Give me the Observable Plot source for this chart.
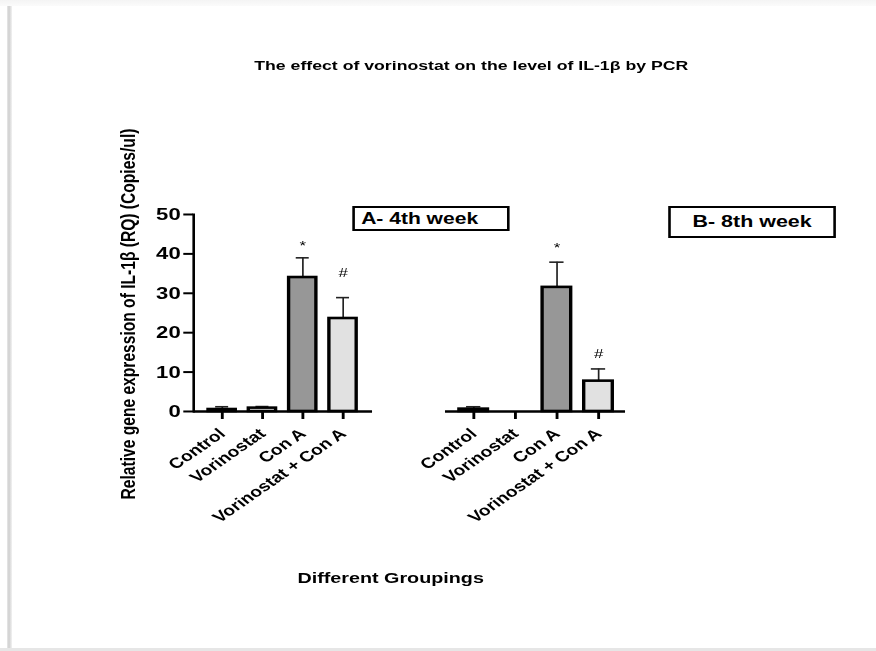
<!DOCTYPE html>
<html>
<head>
<meta charset="utf-8">
<script src="https://cdn.jsdelivr.net/npm/d3@7"></script>
<script src="https://cdn.jsdelivr.net/npm/@observablehq/plot@0.6"></script>
<style>
  html, body { margin: 0; padding: 0; background: #fff; width: 876px; height: 651px; overflow: hidden; }
  body { position: relative; font-family: "Liberation Sans", Arial, Helvetica, sans-serif; }
  #topband { position: absolute; left: 0; top: 0; width: 876px; height: 6px; background: linear-gradient(#f4f4f4, #fbfbfb); }
  #leftshadow { position: absolute; left: 7px; top: 6px; width: 5px; height: 643px; background: linear-gradient(to right, #e8e8e8, #cfcfcf 40%, #f2f2f2); }
  #bottomline { position: absolute; left: 0; top: 648px; width: 876px; height: 3px; background: #e6e6e6; }
  #wrap { position: absolute; left: 0; top: 0; width: 674px; height: 651px; transform: scaleX(1.3); transform-origin: 0 0; }
  #wrap svg { position: absolute; left: 0; top: 0; }
  .t { position: absolute; font-weight: bold; color: #000; white-space: nowrap; }
  #title { left: 362.5px; top: 58px; font-size: 13.6px; transform: translateX(-50%); }
  #ylabel { left: 98.5px; top: 314px; font-size: 15.6px; transform: translate(-50%, -50%) rotate(-90deg); }
  #xlabel { left: 300.5px; top: 569px; font-size: 15.2px; transform: translateX(-50%); }
  .box { position: absolute; border: 2.5px solid #000; box-sizing: border-box; font-weight: bold; white-space: nowrap; background: #fff; }
  #boxA { left: 270.8px; top: 206px; width: 121.5px; height: 25px; font-size: 16.2px; padding-left: 5px; line-height: 20px; }
  #boxB { left: 513.8px; top: 206px; width: 129.5px; height: 32px; font-size: 16.5px; text-align: center; line-height: 27px; }
</style>
</head>
<body>
<div id="topband"></div>
<div id="leftshadow"></div>
<div id="bottomline"></div>
<div id="wrap">
  <div class="t" id="title">The effect of vorinostat on the level of IL-1β by PCR</div>
  <div class="t" id="ylabel">Relative gene expression of IL-1β (RQ) (Copies/ul)</div>
  <div class="t" id="xlabel">Different Groupings</div>
  <div class="box" id="boxA">A- 4th week</div>
  <div class="box" id="boxB">B- 8th week</div>
</div>
<script>
// ---- data ----
const groups = ["Control", "Vorinostat", "Con A", "Vorinostat + Con A"];
const week4Mean = [0.5, 0.85, 34.0, 23.6];
const week4Err  = [0.7, 0.4, 5.0, 5.3];
const week4Sig  = ["", "", "*", "#"];
const week4SigLevel = [null, null, 42.0, 35.3];
const week8Mean = [0.6, 0, 31.5, 7.7];
const week8Err  = [0.6, 0, 6.4, 3.1];
const week8Sig  = ["", "", "*", "#"];
const week8SigLevel = [null, null, 41.6, 14.7];
const yTicks = [0, 10, 20, 30, 40, 50];
const barFills = ["#ffffff", "#ffffff", "#979797", "#e1e1e1"];

function rows(means, errs, sig, lvl) {
  return groups.map((g, i) => ({group: g, mean: means[i], upper: means[i] + errs[i], err: errs[i], sig: sig[i], lvl: lvl[i]}));
}
const dataA = rows(week4Mean, week4Err, week4Sig, week4SigLevel);
const dataB = rows(week8Mean, week8Err, week8Sig, week8SigLevel);

const font = '"Liberation Sans", Arial, Helvetica, sans-serif';

function panel(data, left, right, withAxisY) {
  const marks = [
    Plot.ruleX(data.filter(d => d.err > 0), {x: "group", y1: "mean", y2: "upper", stroke: "#222", strokeWidth: 1.3}),
    Plot.tickY(data.filter(d => d.err > 0), {x: "group", y: "upper", stroke: "#222", strokeWidth: 1.6, insetLeft: 5.5, insetRight: 5.5}),
    Plot.barY(data.filter(d => d.mean > 0), {x: "group", y: "mean", fill: "group", stroke: "#000", strokeWidth: 2.6}),
    Plot.ruleY([0], {stroke: "#000", strokeWidth: 2.5}),
    Plot.axisX({tickSize: 8, tickPadding: 12, tickRotate: -42, fontSize: 14.8, fontWeight: "bold", label: null, stroke: "#000", strokeWidth: 2.2}),
    Plot.text(data.filter(d => d.sig), {x: "group", y: "lvl", text: "sig", fontSize: 13, fill: "#000"})
  ];
  if (withAxisY) {
    marks.push(
      Plot.axisY({ticks: yTicks, tickSize: 7.5, tickPadding: 2.5, fontSize: 17, fontWeight: "bold", label: null, stroke: "#000", strokeWidth: 2}),
      Plot.frame({anchor: "left", stroke: "#000", strokeWidth: 2})
    );
  }
  return Plot.plot({
    width: right,
    height: 651,
    marginLeft: left,
    marginRight: 0,
    marginTop: 214,
    marginBottom: 240,
    x: {domain: groups, padding: 0.32, axis: null},
    y: {domain: [0, 50], axis: null},
    color: {domain: groups, range: barFills},
    style: {background: "transparent", overflow: "visible", fontFamily: font, color: "#000", maxWidth: "none"},
    marks
  });
}

const wrap = document.getElementById("wrap");
wrap.appendChild(panel(dataA, 148.5, 286.2, true));
wrap.appendChild(panel(dataB, 342.3, 480.8, false));
</script>
</body>
</html>
